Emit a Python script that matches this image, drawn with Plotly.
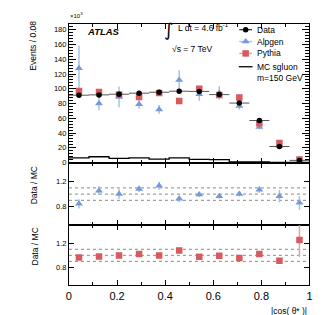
import numpy as np
import plotly.graph_objects as go

# ---------------- data ----------------
n_bins = 12
x_min, x_max = 0.0, 1.0
edges = np.linspace(x_min, x_max, n_bins + 1)
centers = 0.5 * (edges[:-1] + edges[1:])
half_w = 0.5 * (edges[1] - edges[0])

data_y = [91.3, 91.7, 92.6, 94.0, 95.3, 96.7, 96.4, 92.1, 80.6, 56.9, 21.7, 2.9]
pythia_y = [97.0, 95.7, 92.1, 89.0, 94.4, 83.3, 100.0, 91.7, 88.0, 53.3, 26.5, 4.0]
alpgen_y = [127.8, 80.0, 89.0, 79.0, 72.0, 112.0, 92.6, 94.4, 76.6, 48.0, 22.5, 3.4]
alpgen_err = [31, 9, 14, 6, 6, 13, 9, 9, 5, 3, 3, 2]
sgluon_y = [6.4, 7.8, 5.6, 6.4, 4.7, 6.4, 4.3, 4.0, 0.7, 0.7, 0.0, 0.0]

ratio_alpgen = [0.844, 1.056, 1.003, 1.083, 1.135, 0.924, 0.992, 0.965, 1.003, 1.071, 0.965, 0.86]
ratio_alpgen_err = [0.075, 0.07, 0.08, 0.05, 0.065, 0.05, 0.04, 0.035, 0.04, 0.055, 0.1, 0.11]
ratio_pythia = [0.964, 0.98, 0.997, 1.02, 0.997, 1.079, 0.975, 0.992, 0.954, 1.02, 0.91, 1.254]
ratio_pythia_err = [0.01, 0.01, 0.01, 0.01, 0.01, 0.01, 0.01, 0.01, 0.01, 0.02, 0.03, 0.28]

main_yticks = [0, 20, 40, 60, 80, 100, 120, 140, 160, 180]
ratio_yticks = [0.8, 1.2]
ratio_ref_lines = [0.9, 1.0, 1.1]

# ---------------- style ----------------
W, H = 331, 315
FONT = "Liberation Sans"
BLUE = "#7699dc"
BLUE_L = "#a9c0ea"
RED = "#d65a5e"
RED_L = "#e8a3a5"

def px_x(p):
    return p / W

def px_y(p):
    return 1 - p / H

x_dom = [px_x(59), px_x(304)]
main_dom = [px_y(157), px_y(16)]
r1_dom = [px_y(220), px_y(157)]
r2_dom = [px_y(281), px_y(220)]

fig = go.Figure()

# main panel
fig.add_trace(go.Scatter(x=list(edges), y=list(sgluon_y) + [sgluon_y[-1]], mode="lines",
                         line=dict(color="black", width=1.3, shape="hv"),
                         xaxis="x", yaxis="y", showlegend=False))
fig.add_trace(go.Scatter(x=centers, y=alpgen_y, mode="markers",
                         marker=dict(symbol="triangle-up", size=7, color=BLUE),
                         error_y=dict(type="data", array=alpgen_err, color=BLUE_L, thickness=1.5, width=0),
                         xaxis="x", yaxis="y", showlegend=False))
fig.add_trace(go.Scatter(x=centers, y=pythia_y, mode="markers",
                         marker=dict(symbol="square", size=6.5, color=RED),
                         xaxis="x", yaxis="y", showlegend=False))
fig.add_trace(go.Scatter(x=centers, y=data_y, mode="markers",
                         marker=dict(symbol="circle", size=5.5, color="black"),
                         error_x=dict(type="constant", value=half_w, color="#555555", thickness=1, width=0),
                         xaxis="x", yaxis="y", showlegend=False))

# ratio panels
fig.add_trace(go.Scatter(x=centers, y=ratio_alpgen, mode="markers",
                         marker=dict(symbol="triangle-up", size=7, color=BLUE),
                         error_y=dict(type="data", array=ratio_alpgen_err, color=BLUE_L, thickness=1.5, width=0),
                         xaxis="x2", yaxis="y2", showlegend=False))
fig.add_trace(go.Scatter(x=centers, y=ratio_pythia, mode="markers",
                         marker=dict(symbol="square", size=6.5, color=RED),
                         error_y=dict(type="data", array=ratio_pythia_err, color=RED_L, thickness=1.5, width=0),
                         xaxis="x3", yaxis="y3", showlegend=False))

# legend (pixel overlay axis)
leg_x = 239
leg_rows = {"Data": 22, "Alpgen": 34, "Pythia": 46, "MC sgluon": 59.5}
fig.add_trace(go.Scatter(x=[leg_x], y=[leg_rows["Data"]], mode="markers",
                         marker=dict(symbol="circle", size=5.5, color="black"),
                         error_x=dict(type="constant", value=6.5, color="black", thickness=1, width=0),
                         xaxis="x4", yaxis="y4", showlegend=False))
fig.add_trace(go.Scatter(x=[leg_x], y=[leg_rows["Alpgen"]], mode="markers",
                         marker=dict(symbol="triangle-up", size=7, color=BLUE),
                         error_x=dict(type="constant", value=6.5, color=BLUE_L, thickness=1.5, width=0),
                         xaxis="x4", yaxis="y4", showlegend=False))
fig.add_trace(go.Scatter(x=[leg_x], y=[leg_rows["Pythia"]], mode="markers",
                         marker=dict(symbol="square", size=6.5, color=RED),
                         error_x=dict(type="constant", value=6.5, color=RED_L, thickness=1.5, width=0),
                         xaxis="x4", yaxis="y4", showlegend=False))
fig.add_trace(go.Scatter(x=[leg_x - 7, leg_x + 7], y=[leg_rows["MC sgluon"]] * 2, mode="lines",
                         line=dict(color="black", width=1.3),
                         xaxis="x4", yaxis="y4", showlegend=False))

shapes = []
for yref in ["y2", "y3"]:
    for v in ratio_ref_lines:
        shapes.append(dict(type="line", xref="x", yref=yref, x0=x_min, x1=x_max, y0=v, y1=v,
                           line=dict(color="#888888", width=1, dash="dot"), layer="below"))

common_x = dict(range=[x_min, x_max], showline=True, linecolor="black", linewidth=1, mirror="ticks",
                ticks="inside", tickcolor="black", ticklen=5, dtick=0.2, tick0=0,
                minor=dict(dtick=0.1, ticklen=3, ticks="inside", tickcolor="black"),
                showgrid=False, zeroline=False, domain=x_dom)

annotations = []
def text(x, y, s, size, xanchor="left", yanchor="middle", angle=0, family=FONT, **kw):
    annotations.append(dict(x=px_x(x), y=px_y(y), xref="paper", yref="paper", text=s, showarrow=False,
                            xanchor=xanchor, yanchor=yanchor, textangle=angle,
                            font=dict(family=family, size=size, color="black"), **kw))

text(21.5, 38, "Events / 0.08", 8.5, xanchor="center", angle=-90)
text(23, 180, "Data / MC", 8.5, xanchor="center", angle=-90)
text(24, 242, "Data / MC", 8.5, xanchor="center", angle=-90)
text(304, 307, "|cos( θ* )|", 8.5, xanchor="right")
text(58, 7, "×10<sup>3</sup>", 6)
text(75, 24, "<b><i>ATLAS</i></b>", 9.5)
text(160, 22, "∫", 18, xanchor="center", family="DejaVu Sans")
text(168, 20, "L dt = 4.6 fb<sup>-1</sup>", 8.5)
text(162, 42, "√s = 7 TeV", 8.5)
for name, yy in leg_rows.items():
    text(248, yy, name, 8.5)
text(248, 71, "m=150 GeV", 8.5)

fig.update_layout(
    width=W, height=H, margin=dict(l=0, r=0, t=0, b=0),
    paper_bgcolor="white", plot_bgcolor="rgba(0,0,0,0)",
    font=dict(family=FONT, size=8, color="black"),
    showlegend=False,
    xaxis=dict(anchor="y", showticklabels=False, **common_x),
    xaxis2=dict(anchor="y2", showticklabels=False, matches="x", **common_x),
    xaxis3=dict(anchor="y3", showticklabels=True, matches="x", tickfont=dict(size=11), **common_x),
    yaxis=dict(domain=main_dom, anchor="x", range=[-0.67, 188.1], tickvals=main_yticks,
               showline=True, linecolor="black", linewidth=1, mirror="ticks",
               ticks="inside", ticklen=7, tickcolor="black", tickfont=dict(size=7.5),
               minor=dict(dtick=4, tick0=0, ticklen=4, ticks="inside", tickcolor="black"),
               showgrid=False, zeroline=False),
    yaxis2=dict(domain=r1_dom, anchor="x2", range=[0.5, 1.5], tickvals=ratio_yticks,
                showline=True, linecolor="black", linewidth=1, mirror="ticks",
                ticks="inside", ticklen=5, tickcolor="black", tickfont=dict(size=7.5),
                showgrid=False, zeroline=False),
    yaxis3=dict(domain=r2_dom, anchor="x3", range=[0.5, 1.5], tickvals=ratio_yticks,
                showline=True, linecolor="black", linewidth=1, mirror="ticks",
                ticks="inside", ticklen=5, tickcolor="black", tickfont=dict(size=7.5),
                showgrid=False, zeroline=False),
    xaxis4=dict(domain=[0, 1], range=[0, W], visible=False, anchor="y4", fixedrange=True),
    yaxis4=dict(domain=[0, 1], range=[H, 0], visible=False, anchor="x4", fixedrange=True),
    shapes=shapes,
    annotations=annotations,
)

fig.write_html("out.html")
